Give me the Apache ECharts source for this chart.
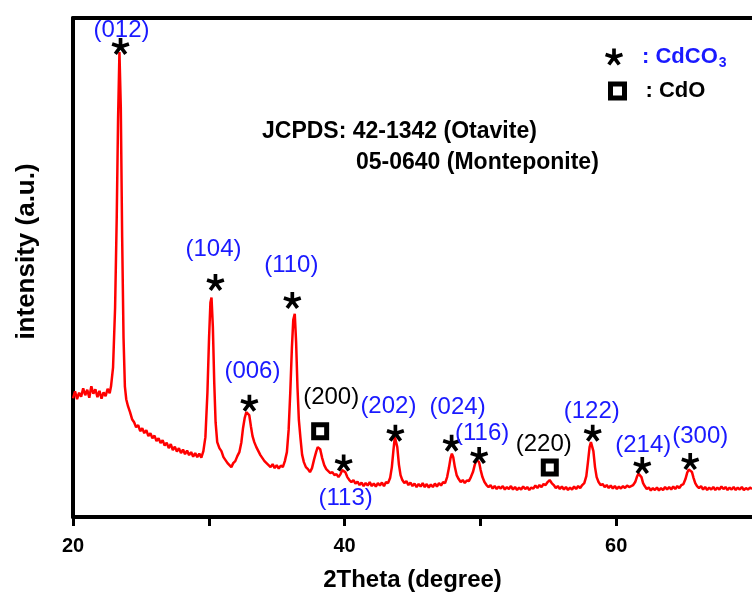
<!DOCTYPE html>
<html>
<head>
<meta charset="utf-8">
<script src="https://cdn.jsdelivr.net/npm/echarts@6.0.0/dist/echarts.min.js"></script>
<style>
  html, body { margin: 0; padding: 0; background: #fff; }
  #chart { width: 752px; height: 597px; }
</style>
</head>
<body>
<div id="chart"></div>
<script>
// XRD scan: [2theta, intensity (a.u., 0-1000 frame)]
const pattern = [
  [20.0,238],[20.15,252],[20.3,236],[20.45,249],[20.6,241],[20.75,258],[20.9,244],[21.05,255],[21.2,239],[21.35,262],
  [21.5,247],[21.65,256],[21.8,240],[21.95,253],[22.1,237],[22.25,250],[22.4,242],[22.55,257],[22.7,248],[22.8,262],
  [22.95,300],[23.1,420],[23.22,600],[23.32,800],[23.42,932],[23.52,820],[23.62,560],[23.72,360],[23.82,262],[23.92,236],
  [24.05,222],[24.2,210],[24.35,196],[24.5,190],[24.65,180],[24.8,184],[24.95,172],[25.1,178],[25.25,168],[25.4,174],
  [25.55,162],[25.7,168],[25.85,158],[26.0,163],[26.15,152],[26.3,158],[26.45,148],[26.6,154],[26.75,143],[26.9,149],
  [27.05,138],[27.2,146],[27.35,134],[27.5,141],[27.65,131],[27.8,138],[27.95,128],[28.1,135],[28.25,126],[28.4,133],
  [28.55,124],[28.7,130],[28.85,121],[29.0,128],[29.15,120],[29.3,127],[29.45,119],[29.6,132],
  [29.75,160],[29.9,250],[30.02,360],[30.12,430],[30.2,440],[30.3,380],[30.4,270],[30.5,190],[30.62,150],[30.78,138],
  [30.93,132],[31.08,120],[31.23,114],[31.38,108],[31.52,104],[31.66,100],[31.8,108],[31.95,112],[32.1,122],[32.25,130],
  [32.4,150],[32.52,178],[32.64,198],[32.76,210],[32.87,213],[32.98,204],[33.1,182],[33.22,162],[33.35,150],[33.5,140],
  [33.65,132],[33.8,124],[33.95,118],[34.1,112],[34.25,108],[34.4,104],[34.55,100],[34.7,106],[34.85,98],[35.0,104],
  [35.15,97],[35.3,103],[35.45,100],[35.6,112],[35.75,130],[35.88,175],[36.0,250],[36.12,340],[36.22,395],[36.33,407],
  [36.43,350],[36.53,260],[36.63,195],[36.75,158],[36.87,125],[37.0,110],[37.15,100],[37.3,96],[37.45,90],[37.6,98],
  [37.75,115],[37.9,130],[38.02,140],[38.1,142],[38.2,136],[38.35,118],[38.5,104],[38.65,96],[38.8,92],[38.95,88],
  [39.1,90],[39.25,84],[39.4,86],[39.55,80],[39.7,86],[39.82,94],[39.93,98],[40.05,90],[40.2,80],[40.35,74],
  [40.5,70],[40.65,74],[40.8,67],[40.95,71],[41.1,64],[41.25,69],[41.4,62],[41.55,68],[41.7,63],[41.85,70],
  [42.0,62],[42.15,67],[42.3,61],[42.45,68],[42.6,63],[42.75,69],[42.9,62],[43.05,70],[43.2,68],[43.35,78],
  [43.48,100],[43.6,135],[43.7,160],[43.78,162],[43.88,140],[44.0,105],[44.12,84],[44.25,74],[44.4,68],[44.55,72],
  [44.7,64],[44.85,69],[45.0,62],[45.15,67],[45.3,60],[45.45,66],[45.6,61],[45.75,68],[45.9,60],[46.05,66],
  [46.2,59],[46.35,65],[46.5,60],[46.65,67],[46.8,61],[46.95,68],[47.1,63],[47.25,70],[47.4,68],[47.55,80],
  [47.68,98],[47.8,118],[47.9,127],[48.0,120],[48.12,100],[48.25,84],[48.4,76],[48.55,70],[48.7,74],[48.85,68],
  [49.0,73],[49.15,72],[49.3,80],[49.45,90],[49.58,104],[49.7,114],[49.8,117],[49.9,110],[50.02,94],[50.15,80],
  [50.3,70],[50.45,64],[50.6,60],[50.75,64],[50.9,57],[51.05,62],[51.2,56],[51.35,61],[51.5,57],[51.65,62],
  [51.8,55],[51.95,60],[52.1,56],[52.25,62],[52.4,55],[52.55,60],[52.7,54],[52.85,59],[53.0,55],[53.15,61],
  [53.3,56],[53.45,60],[53.6,54],[53.75,59],[53.9,57],[54.05,63],[54.2,58],[54.35,64],[54.5,60],[54.65,66],
  [54.8,64],[54.95,70],[55.1,74],[55.25,68],[55.4,64],[55.55,58],[55.7,62],[55.85,56],[56.0,61],[56.15,55],
  [56.3,60],[56.45,54],[56.6,59],[56.75,55],[56.9,61],[57.05,56],[57.2,62],[57.35,58],[57.5,64],[57.65,68],
  [57.8,82],[57.92,110],[58.04,140],[58.14,150],[58.22,151],[58.32,132],[58.44,100],[58.56,80],[58.7,70],[58.85,64],
  [59.0,66],[59.15,60],[59.3,64],[59.45,58],[59.6,63],[59.75,57],[59.9,62],[60.05,56],[60.2,61],[60.35,57],
  [60.5,62],[60.65,58],[60.8,63],[60.95,60],[61.1,62],[61.25,64],[61.4,70],[61.52,80],[61.64,87],[61.75,88],
  [61.86,80],[61.98,68],[62.1,62],[62.25,56],[62.4,59],[62.55,53],[62.7,58],[62.85,54],[63.0,59],[63.15,53],
  [63.3,58],[63.45,54],[63.6,60],[63.75,55],[63.9,60],[64.05,55],[64.2,61],[64.35,56],[64.5,62],[64.65,58],
  [64.8,64],[64.95,66],[65.1,76],[65.22,88],[65.34,95],[65.46,96],[65.58,90],[65.7,78],[65.82,68],[65.95,62],
  [66.1,58],[66.25,62],[66.4,55],[66.55,60],[66.7,54],[66.85,59],[67.0,55],[67.15,60],[67.3,54],[67.45,59],
  [67.6,55],[67.75,61],[67.9,56],[68.05,60],[68.2,54],[68.35,59],[68.5,55],[68.65,60],[68.8,54],[68.95,59],
  [69.1,55],[69.25,60],[69.4,54],[69.55,58],[69.7,55],[69.85,59],[70.0,56]
]

// marker positions (just above each reflection)
const cdco3Peaks = [[23.50,943],[30.49,470],[32.99,228],[36.15,434],[39.93,108],[43.74,168],[47.88,148],[49.91,123],[58.27,168],[61.92,103],[65.45,111]]
const cdco3Hkl = ['(012)','(104)','(006)','(110)','(113)','(202)','(024)','(116)','(122)','(214)','(300)']
const cdoPeaks = [[38.20,172],[55.11,99]]
const cdoHkl = ['(200)','(220)']

const xTicks = [20, 30, 40, 50, 60]
const xLabels = [20, 40, 60]

// where each hkl tag sits relative to its marker (px)
const cdco3LabelShift = [[1,-16],[-2,-33],[3,-32],[-1,-35],[2,35],[-7,-27],[6,-36],[3,-22],[-1,-22],[1,-20],[10,-25]]
const cdoLabelShift = [[11,-34],[-6,-23]]

const FONT = '"Liberation Sans", Arial, sans-serif'
const BLUE = '#1a1aff'
// 5-arm asterisk
const starPath = 'path://M60 50L60 2L40 2L40 50Z M53.09 59.51L98.74 44.68L92.56 25.66L46.91 40.49Z M41.91 55.88L70.13 94.71L86.31 82.95L58.09 44.12Z M41.91 44.12L13.69 82.95L29.87 94.71L58.09 55.88Z M53.09 40.49L7.44 25.66L1.26 44.68L46.91 59.51Z'

const chart = echarts.init(document.getElementById('chart'))

const co3Data = cdco3Peaks.map((p, i) => ({
  value: p,
  label: { offset: cdco3LabelShift[i] }
}))
const cdoData = cdoPeaks.map((p, i) => ({
  value: p,
  label: { offset: cdoLabelShift[i] }
}))

chart.setOption({
  animation: false,
  backgroundColor: '#fff',
  title: [
    {
      text: 'JCPDS: 42-1342 (Otavite)',
      left: 262, top: 120, padding: 0,
      textStyle: { fontFamily: FONT, fontSize: 23, fontWeight: 'bold', color: '#000' }
    },
    {
      text: '05-0640 (Monteponite)',
      left: 356, top: 151, padding: 0,
      textStyle: { fontFamily: FONT, fontSize: 23, fontWeight: 'bold', color: '#000' }
    }
  ],
  legend: [
    {
      data: [{ name: 'CdCO3', itemStyle: { color: '#000', opacity: 1 } }],
      selectedMode: false,
      left: 605, top: 44, padding: 0,
      itemWidth: 18, itemHeight: 18,
      formatter: () => '{a|: CdCO}{s|3}',
      textStyle: {
        rich: {
          a: { fontFamily: FONT, fontSize: 22, fontWeight: 'bold', color: BLUE, padding: [0, 0, 0, 14], lineHeight: 24 },
          s: { fontFamily: FONT, fontSize: 14, fontWeight: 'bold', color: BLUE, padding: [12, 0, 0, 1], lineHeight: 14 }
        }
      }
    },
    {
      data: [{ name: 'CdO', itemStyle: { color: '#fff', borderColor: '#000', borderWidth: 5, opacity: 1 } }],
      selectedMode: false,
      left: 608, top: 80, padding: 0,
      itemWidth: 14, itemHeight: 14,
      formatter: () => '{k|: CdO}',
      textStyle: {
        rich: {
          k: { fontFamily: FONT, fontSize: 22, fontWeight: 'bold', color: '#000', padding: [0, 0, 0, 16] }
        }
      }
    }
  ],
  grid: { left: 73, right: -5, top: 18, bottom: 78, containLabel: false },
  xAxis: [
    {
      type: 'value',
      min: 20, max: 70, interval: 10,
      name: '2Theta (degree)',
      nameLocation: 'middle',
      nameGap: 51,
      nameTextStyle: { fontFamily: FONT, fontSize: 24, fontWeight: 'bold', color: '#000' },
      axisLine: { lineStyle: { color: '#000', width: 4 } },
      axisTick: { customValues: xTicks, length: 9, lineStyle: { color: '#000', width: 3 } },
      axisLabel: {
        customValues: xLabels,
        margin: 19,
        fontFamily: FONT, fontSize: 20, fontWeight: 'bold', color: '#000'
      },
      splitLine: { show: false }
    },
    {
      type: 'value',
      position: 'top',
      min: 20, max: 70,
      axisLine: { lineStyle: { color: '#000', width: 4 } },
      axisTick: { show: false },
      axisLabel: { show: false },
      splitLine: { show: false }
    }
  ],
  yAxis: {
    type: 'value',
    min: 0, max: 1000,
    name: 'intensity (a.u.)',
    nameLocation: 'middle',
    nameGap: 33,
    nameTextStyle: { fontFamily: FONT, fontSize: 26, fontWeight: 'bold', color: '#000', padding: [0, 0, 0, 32] },
    axisLine: { show: true, lineStyle: { color: '#000', width: 4 } },
    axisTick: { show: false },
    axisLabel: { show: false },
    splitLine: { show: false }
  },
  series: [
    {
      name: 'XRD',
      type: 'line',
      data: pattern,
      showSymbol: false,
      lineStyle: { color: '#ff0000', width: 2.5 },
      itemStyle: { color: '#ff0000' },
      z: 2
    },
    {
      name: 'CdCO3',
      type: 'scatter',
      data: co3Data,
      symbol: starPath,
      symbolSize: [18, 17],
      itemStyle: { color: '#000', opacity: 1 },
      label: {
        show: true,
        position: 'inside',
        formatter: p => cdco3Hkl[p.dataIndex],
        fontFamily: FONT, fontSize: 24, color: BLUE, opacity: 1
      },
      z: 5
    },
    {
      name: 'CdO',
      type: 'scatter',
      data: cdoData,
      symbol: 'rect',
      symbolSize: 13,
      itemStyle: { color: '#fff', borderColor: '#000', borderWidth: 5, opacity: 1 },
      label: {
        show: true,
        position: 'inside',
        formatter: p => cdoHkl[p.dataIndex],
        fontFamily: FONT, fontSize: 24, color: '#000', opacity: 1
      },
      z: 5
    }
  ]
})
</script>
</body>
</html>
